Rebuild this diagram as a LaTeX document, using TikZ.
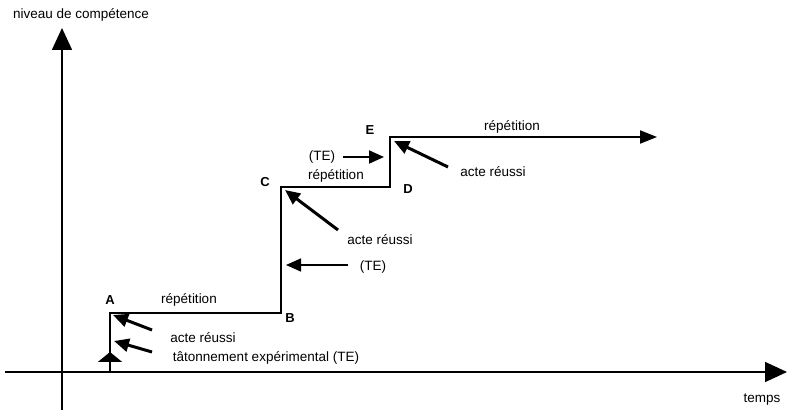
\documentclass[tikz,border=0pt]{standalone}
\usepackage{fontspec}
\setmainfont{Liberation Sans}
\usetikzlibrary{arrows.meta,positioning}
\tikzset{
	axis/.style={
		line width=1.6pt,
		-{Triangle[length=22pt,width=20pt]}
	},
	stair/.style={
		line width=2pt,
		-{Triangle[length=17pt,width=13pt]}
	},
	starttip/.style={
		line width=2pt,
		-{Triangle[length=10pt,width=24pt]}
	},
	pointer/.style={
		line width=3pt,
		-{Triangle[length=15pt,width=13pt]}
	},
	txt/.style={
		font=\fontsize{13.5}{16}\selectfont,
		inner sep=0pt
	},
	letter/.style={
		font=\fontsize{13}{16}\selectfont\bfseries,
		inner sep=0pt
	},
}

\begin{document}
\begin{tikzpicture}[x=1pt,y=-1pt]
	\useasboundingbox (0,0) rectangle (787,419);
	% axes
	\coordinate (ybot) at (62,410);
	\coordinate (ytop) at (62,28);
	\coordinate (xleft) at (5,372);
	\coordinate (xright) at (787,372);
	\draw[axis] (ybot) -- (ytop);
	\draw[axis] (xleft) -- (xright);
	\node[txt] (niveau) at (81,15) {niveau de compétence};
	\node[txt] (temps) at (762,400) {temps};
	% staircase
	\coordinate (start) at (110,372);
	\coordinate (A) at (110,313);
	\coordinate (B) at (281,313);
	\coordinate (C) at (281,187);
	\coordinate (D) at (390,187);
	\coordinate (E) at (390,137);
	\coordinate (end) at (657,137);
	\draw[stair] (start) -- (A) -- (B) -- (C) -- (D) -- (E) -- (end);
	\coordinate (starthead) at (110,352);
	\draw[starttip] (start) -- (starthead);
	% letters
	\node[letter] (labA) at (110,300) {A};
	\node[letter] (labB) at (290,318) {B};
	\node[letter] (labC) at (265,182) {C};
	\node[letter] (labD) at (408,189) {D};
	\node[letter] (labE) at (370,130) {E};
	% texts
	\node[txt] (rep1) at (189,300) {répétition};
	\node[txt] (rep2) at (336,176) {répétition};
	\node[txt] (rep3) at (512,127) {répétition};
	\node[txt] (acte1) at (203,338) {acte réussi};
	\node[txt] (tat) at (266,358) {tâtonnement expérimental (TE)};
	\node[txt] (acte2) at (380,240) {acte réussi};
	\node[txt] (te2) at (373,267) {(TE)};
	\node[txt] (te3) at (322,157) {(TE)};
	\node[txt] (acte3) at (493,172) {acte réussi};
	% pointers
	\coordinate (a1tail) at (152,330);
	\coordinate (a1tip) at (113,315);
	\coordinate (t1tail) at (152,352);
	\coordinate (t1tip) at (114,341);
	\coordinate (a2tail) at (338,230);
	\coordinate (a2tip) at (285,190);
	\coordinate (t2tail) at (348,265);
	\coordinate (t2tip) at (286,265);
	\coordinate (t3tail) at (343,157);
	\coordinate (t3tip) at (384,157);
	\coordinate (a3tail) at (448,167);
	\coordinate (a3tip) at (394,141);
	\draw[pointer] (a1tail) -- (a1tip);
	\draw[pointer] (t1tail) -- (t1tip);
	\draw[pointer] (a2tail) -- (a2tip);
	\draw[pointer,line width=1.5pt] (t2tail) -- (t2tip);
	\draw[pointer,line width=2pt] (t3tail) -- (t3tip);
	\draw[pointer] (a3tail) -- (a3tip);
\end{tikzpicture}
\end{document}
